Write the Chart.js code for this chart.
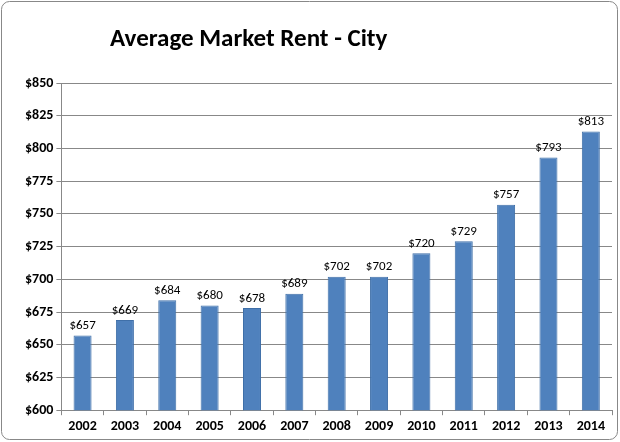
<!DOCTYPE html>
<html><head><meta charset="utf-8">
<script src="https://cdn.jsdelivr.net/npm/chart.js@4/dist/chart.umd.min.js"></script>
<style>body{margin:0;background:#fff}#wrap{width:620px;height:442px}</style>
</head><body><div id="wrap"><canvas id="c"></canvas></div>
<script>
const years = ['2002','2003','2004','2005','2006','2007','2008','2009','2010','2011','2012','2013','2014'];
const rents = [657, 669, 684, 680, 678, 689, 702, 702, 720, 729, 757, 793, 813];
const font = 'Calibri, Carlito, "Liberation Sans", sans-serif';

const extras = {
  id: 'extras',
  afterDraw(chart) {
    const c = chart.ctx;
    c.save();
    c.strokeStyle = '#888'; c.lineWidth = 1;
    c.beginPath(); c.roundRect(1.5, 1.5, 616, 438, 8); c.stroke();
    c.fillStyle = '#000'; c.font = 'bold 25px ' + font;
    c.textAlign = 'left'; c.textBaseline = 'middle';
    c.fillText('Average Market Rent - City', 110, 40);
    c.font = '13px ' + font; c.textAlign = 'center'; c.textBaseline = 'bottom';
    chart.getDatasetMeta(0).data.forEach((b, i) => c.fillText('$' + rents[i], b.x, b.y - 3));
    c.restore();
  }
};

new Chart(document.getElementById('c'), {
  type: 'bar',
  data: { labels: years, datasets: [{ data: rents, backgroundColor: '#4F81BD', borderColor: '#3f6fa8', borderWidth: 1, categoryPercentage: 0.85, barPercentage: 0.5 }] },
  options: {
    responsive: true, maintainAspectRatio: false, animation: false,
    layout: { padding: { top: 83, left: 22, right: 8, bottom: 4 } },
    plugins: { legend: { display: false }, tooltip: { enabled: false } },
    scales: {
      y: { min: 600, max: 850, ticks: { stepSize: 25, callback: v => '$' + v, color: '#000', font: { family: font, size: 14, weight: 'bold' } },
           grid: { color: '#888', tickLength: 5 }, border: { color: '#888' } },
      x: { ticks: { color: '#000', font: { family: font, size: 14, weight: 'bold' } },
           grid: { offset: true, drawOnChartArea: false, color: '#888', tickLength: 5 }, border: { color: '#888' } }
    }
  },
  plugins: [extras]
});
</script></body></html>
